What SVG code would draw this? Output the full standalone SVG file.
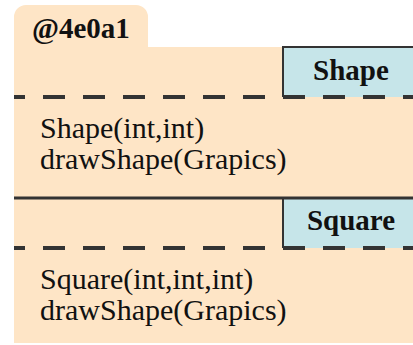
<svg xmlns="http://www.w3.org/2000/svg" width="413" height="345" viewBox="0 0 413 345">
<style>
.body{fill:#fee5c6}
.box{fill:#c6e5e9;stroke:#333;stroke-width:2}
.dash{stroke:#333;stroke-width:4;stroke-dasharray:22 18;stroke-dashoffset:11;fill:none}
.solid{stroke:#333;stroke-width:3;fill:none}
.title{font-family:"Liberation Serif","Times New Roman",serif;font-weight:bold;font-size:29px;fill:#111}
.m{font-family:"Liberation Serif","Times New Roman",serif;font-size:30px;fill:#111}
</style>
<g id="object">
<path class="body" d="M14,47 V17 A12,12 0 0 1 26,5 H136 A12,12 0 0 1 148,17 V47 H413 V343 H14 Z"/>
<text class="title" x="32" y="38">@4e0a1</text>
</g>
<g id="shape">
<path class="box" d="M283,97 V47 H415 V97"/>
<text class="title" x="351" y="80" text-anchor="middle">Shape</text>
<line class="dash" x1="14" y1="97" x2="413" y2="97"/>
<text class="m" x="40" y="138">Shape(int,int)</text>
<text class="m" x="40" y="169">drawShape(Grapics)</text>
</g>
<g id="square">
<path class="box" d="M283,248 V198 H415 V248"/>
<line class="solid" x1="14" y1="198" x2="413" y2="198"/>
<text class="title" x="351" y="230" text-anchor="middle">Square</text>
<line class="dash" x1="14" y1="248" x2="413" y2="248"/>
<text class="m" x="40" y="289">Square(int,int,int)</text>
<text class="m" x="40" y="320">drawShape(Grapics)</text>
</g>
<g id="connectors"/>
</svg>
